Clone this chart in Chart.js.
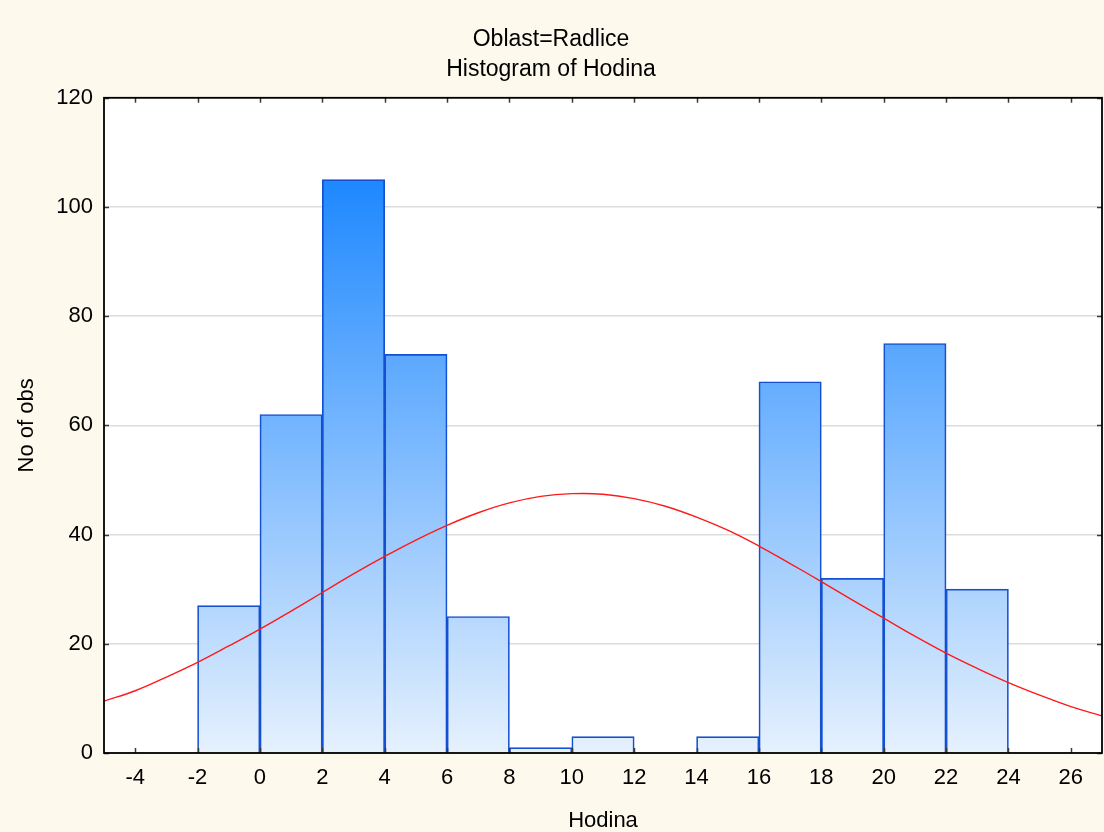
<!DOCTYPE html>
<html>
<head>
<meta charset="utf-8">
<script src="https://cdn.jsdelivr.net/npm/chart.js@4.4.1/dist/chart.umd.min.js"></script>
<style>
  html, body { margin: 0; padding: 0; background: #fdf9ed; }
  #wrap { width: 1104px; height: 832px; }
</style>
</head>
<body>
<div id="wrap"><canvas id="histo"></canvas></div>
<script>
// histogram bins (centres, width 2) and counts
const binCenters = [-1, 1, 3, 5, 7, 9, 11, 13, 15, 17, 19, 21, 23];
const counts = [27, 62, 105, 73, 25, 1, 3, 0, 3, 68, 32, 75, 30];

// fitted normal curve
const curveX = [-5, -4, -3, -2, -1, 0, 1, 2, 3, 4, 5, 6, 7, 8, 9, 10, 11, 12, 13, 14, 15, 16, 17, 18, 19, 20, 21, 22, 23, 24, 25, 26, 27];
const curveY = [9.5, 11.4, 13.9, 16.6, 19.6, 22.7, 26.0, 29.4, 32.8, 36.0, 39.0, 41.7, 44.0, 45.8, 47.0, 47.5, 47.4, 46.6, 45.2, 43.2, 40.8, 37.9, 34.7, 31.4, 28.0, 24.7, 21.4, 18.3, 15.5, 12.9, 10.6, 8.5, 6.8];

const xTicks = [-4, -2, 0, 2, 4, 6, 8, 10, 12, 14, 16, 18, 20, 22, 24, 26];
const yTicks = [0, 20, 40, 60, 80, 100, 120];

const FONT = "'Liberation Sans', Arial, sans-serif";

// background + white plot area
const backdrop = {
  id: 'backdrop',
  beforeDraw(chart) {
    const { ctx, chartArea: a } = chart;
    ctx.save();
    ctx.fillStyle = '#fdf9ed';
    ctx.fillRect(0, 0, chart.width, chart.height);
    ctx.fillStyle = '#ffffff';
    ctx.fillRect(a.left, a.top, a.right - a.left, a.bottom - a.top);
    ctx.restore();
  }
};

// frame round the plot and small inward tick marks on all sides
const frame = {
  id: 'frame',
  afterDraw(chart) {
    const { ctx, chartArea: a } = chart;
    const xs = chart.scales.x, ys = chart.scales.y;
    const len = 5;
    ctx.save();
    ctx.strokeStyle = '#3a3a3a';
    ctx.lineWidth = 1.5;
    ctx.beginPath();
    xTicks.forEach(v => {
      const px = Math.round(xs.getPixelForValue(v)) + 0.5;
      ctx.moveTo(px, a.bottom); ctx.lineTo(px, a.bottom - len);
      ctx.moveTo(px, a.top); ctx.lineTo(px, a.top + len);
    });
    yTicks.forEach(v => {
      const py = Math.round(ys.getPixelForValue(v)) + 0.5;
      ctx.moveTo(a.left, py); ctx.lineTo(a.left + len, py);
      ctx.moveTo(a.right, py); ctx.lineTo(a.right - len, py);
    });
    ctx.stroke();
    ctx.strokeStyle = '#000000';
    ctx.lineWidth = 1.8;
    ctx.strokeRect(a.left, a.top, a.right - a.left, a.bottom - a.top);
    ctx.restore();
  }
};

function barFill(ctx) {
  const chart = ctx.chart;
  if (!chart.chartArea) return '#7fbefb';
  const ys = chart.scales.y;
  const g = chart.ctx.createLinearGradient(0, ys.getPixelForValue(0), 0, ys.getPixelForValue(Math.max(...counts)));
  g.addColorStop(0, '#e6f1fd');
  g.addColorStop(1, '#1e88ff');
  return g;
}

new Chart(document.getElementById('histo'), {
  type: 'bar',
  data: {
    datasets: [
      {
        type: 'line',
        data: curveX.map((x, i) => ({ x: x, y: curveY[i] })),
        borderColor: '#ff1a1a',
        borderWidth: 1.4,
        pointRadius: 0,
        tension: 0.4,
        fill: false,
        order: 0
      },
      {
        type: 'bar',
        data: binCenters.map((x, i) => ({ x: x, y: counts[i] })),
        backgroundColor: barFill,
        borderColor: '#1450d2',
        borderWidth: 1.7,
        barPercentage: 1,
        categoryPercentage: 1,
        grouped: false,
        order: 1
      }
    ]
  },
  options: {
    responsive: true,
    maintainAspectRatio: false,
    animation: false,
    layout: { padding: { left: 0, right: 2, top: 0, bottom: 0 } },
    plugins: {
      legend: { display: false },
      tooltip: { enabled: false },
      title: {
        display: true,
        text: ['Oblast=Radlice', 'Histogram of Hodina'],
        color: '#000',
        font: { family: FONT, size: 23, weight: 'normal', lineHeight: 1.3 },
        padding: { top: 25, bottom: 13 }
      }
    },
    scales: {
      x: {
        type: 'linear',
        min: -5,
        max: 27,
        offset: false,
        afterBuildTicks: s => { s.ticks = xTicks.map(v => ({ value: v })); },
        afterFit: s => { s.height = 79; },
        ticks: { color: '#000', font: { family: FONT, size: 22 }, padding: 12, maxRotation: 0, autoSkip: false },
        grid: { display: false, drawTicks: false },
        border: { display: false },
        title: { display: true, text: 'Hodina', color: '#000', font: { family: FONT, size: 22 }, padding: { top: -2, bottom: -2 } }
      },
      y: {
        min: 0,
        max: 120,
        afterBuildTicks: s => { s.ticks = yTicks.map(v => ({ value: v })); },
        afterFit: s => { s.width = 104; },
        ticks: { color: '#000', font: { family: FONT, size: 22 }, padding: 11 },
        grid: { color: '#dcdcdc', lineWidth: 1.5, drawTicks: false },
        border: { display: false },
        title: { display: true, text: 'No of obs', color: '#000', font: { family: FONT, size: 22 }, padding: { top: 14, bottom: 0 } }
      }
    }
  },
  plugins: [backdrop, frame]
});
</script>
</body>
</html>
